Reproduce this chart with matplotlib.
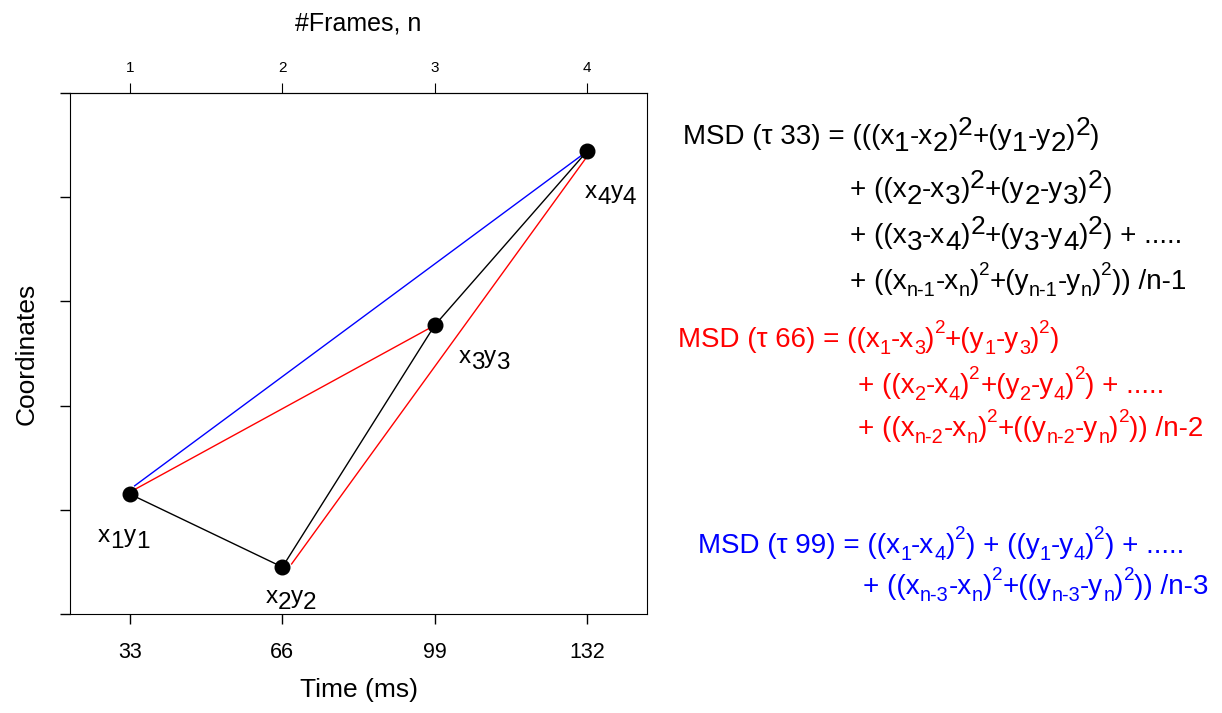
import re
import matplotlib.pyplot as plt
from matplotlib.transforms import IdentityTransform

plt.rcParams['font.family'] = ['Liberation Sans', 'DejaVu Sans']

# time (ms) and coordinate of each frame
time_ms = [33, 66, 99, 132]
coord = [1.15, 0.45, 2.77, 4.44]
frames = [1, 2, 3, 4]
point_labels = ['x_{1}y_{1}', 'x_{2}y_{2}', 'x_{3}y_{3}', 'x_{4}y_{4}']

# lag 66 (red) and lag 99 (blue) segments as drawn in the picture
red_a_x = [33, 99]
red_a_y = [1.17, 2.77]
red_b_x = [68, 132]
red_b_y = [0.48, 4.39]
blue_x = [34, 132]
blue_y = [1.23, 4.44]

msd33 = ['MSD (\u03c4 33) = (((x_{1}-x_{2})^{2}+(y_{1}-y_{2})^{2})',
         '+ ((x_{2}-x_{3})^{2}+(y_{2}-y_{3})^{2})',
         '+ ((x_{3}-x_{4})^{2}+(y_{3}-y_{4})^{2}) + .....',
         '+ ((x_{n-1}-x_{n})^{2}+(y_{n-1}-y_{n})^{2})) /n-1']
msd66 = ['MSD (\u03c4 66) = ((x_{1}-x_{3})^{2}+(y_{1}-y_{3})^{2})',
         '+ ((x_{2}-x_{4})^{2}+(y_{2}-y_{4})^{2}) + .....',
         '+ ((x_{n-2}-x_{n})^{2}+((y_{n-2}-y_{n})^{2})) /n-2']
msd99 = ['MSD (\u03c4 99) = ((x_{1}-x_{4})^{2}) + ((y_{1}-y_{4})^{2}) + .....',
         '+ ((x_{n-3}-x_{n})^{2}+((y_{n-3}-y_{n})^{2})) /n-3']

fig = plt.figure(figsize=(12.22, 7.13), dpi=100)
renderer = fig.canvas.get_renderer()
H = 713


def rich(x, y, markup, size, color, big=True):
    # x, y: left edge and baseline in pixels from the top-left corner
    if big:
        sub_s, sup_s, sub_dy, sup_dy = 1.0, 0.95, -0.24, 0.34
    else:
        sub_s, sup_s, sub_dy, sup_dy = 0.72, 0.68, -0.26, 0.52
    em = size * fig.dpi / 72.0
    cx = x
    for part in re.split(r'([_^]\{[^}]*\})', markup):
        if not part:
            continue
        if part[0] == '_':
            txt, fs, dy = part[2:-1], size * sub_s, sub_dy * em
        elif part[0] == '^':
            txt, fs, dy = part[2:-1], size * sup_s, sup_dy * em
        else:
            txt, fs, dy = part, size, 0
        t = fig.text(cx, H - y + dy, txt, fontsize=fs, color=color,
                     transform=IdentityTransform(), va='baseline', ha='left')
        cx += t.get_window_extent(renderer).width


ax = fig.add_axes([0.0573, 0.1389, 0.4722, 0.7307])

ax.plot(blue_x, blue_y, color='blue', lw=1)
ax.plot(red_a_x, red_a_y, color='red', lw=1)
ax.plot(red_b_x, red_b_y, color='red', lw=1)
ax.plot(time_ms, coord, color='black', lw=1)
ax.plot(time_ms, coord, 'o', color='black', ms=10.5, zorder=5)

ax.set_xlim(20, 145)
ax.set_ylim(0, 5)
ax.set_xticks(time_ms)
ax.set_xticklabels([str(t) for t in time_ms], fontsize=15.5)
ax.set_yticks([0, 1, 2, 3, 4, 5])
ax.set_yticklabels([])
ax.tick_params(axis='both', direction='out', length=7, width=1)
ax.tick_params(axis='x', pad=13)
ax.set_xlabel('Time (ms)', fontsize=19, labelpad=11)
ax.set_ylabel('Coordinates', fontsize=19, labelpad=12)

top = ax.secondary_xaxis('top', functions=(lambda t: t / 33.0, lambda f: f * 33.0))
top.set_xticks(frames)
top.set_xticklabels([str(f) for f in frames], fontsize=11)
top.tick_params(direction='out', length=7, pad=6)
top.set_xlabel('#Frames, n', fontsize=18, labelpad=22)

# point labels, offsets (px) from each dot to label's left edge / baseline
label_dx = [-32, -17, 24, -2]
label_dy = [48, 36, 38, 47]
for t, c, s, dx, dy in zip(time_ms, coord, point_labels, label_dx, label_dy):
    px, py = ax.transData.transform((t, c))
    rich(px + dx, H - py + dy, s, 17.5, 'black', big=True)

fs = 20
rich(683, 144, msd33[0], fs, 'black', big=True)
rich(850, 197, msd33[1], fs, 'black', big=True)
rich(850, 243, msd33[2], fs, 'black', big=True)
rich(850, 289, msd33[3], fs, 'black', big=False)

rich(678, 347, msd66[0], fs, 'red', big=False)
rich(858, 393, msd66[1], fs, 'red', big=False)
rich(858, 436, msd66[2], fs, 'red', big=False)

rich(698, 553, msd99[0], fs, 'blue', big=False)
rich(863, 594, msd99[1], fs, 'blue', big=False)

fig.savefig('out.png', dpi=100)
